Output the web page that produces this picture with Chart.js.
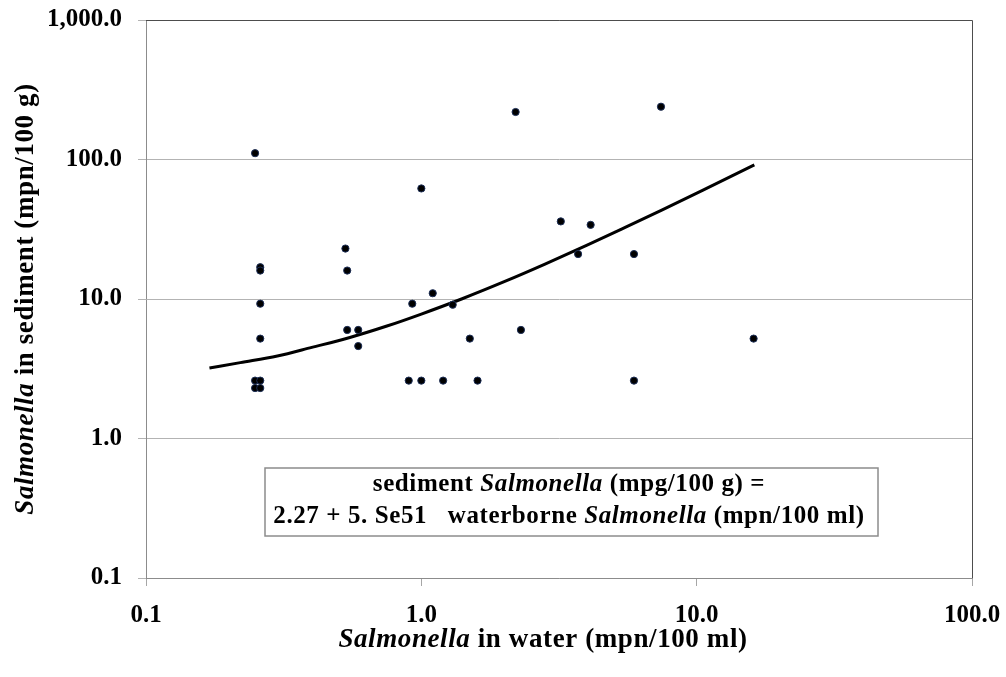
<!DOCTYPE html>
<html>
<head>
<meta charset="utf-8">
<script src="https://cdn.jsdelivr.net/npm/chart.js@4.4.1/dist/chart.umd.min.js"></script>
<style>
    body { margin: 0; background: #fff; }
    canvas { display: block; }
</style>
</head>
<body>
<canvas id="salmonellaChart" width="1006" height="677"></canvas>
<script>
// Datos (agua vs sedimento)
const waterValues = [0.249, 0.26, 0.26, 0.26, 0.26, 0.249, 0.26, 0.249, 0.26,
    0.53, 0.538, 0.538, 0.59, 0.59, 0.927, 1.1, 1.0, 0.9, 1.0, 1.2, 1.6,
    1.3, 1.5, 2.2, 2.3, 3.21, 4.12, 3.71, 5.92, 5.92, 7.42, 16.1];
const sedimentValues = [111, 16.9, 16.0, 9.25, 5.2, 2.6, 2.6, 2.3, 2.3,
    23.0, 16.0, 6.0, 6.0, 4.6, 9.25, 11.0, 62, 2.6, 2.6, 2.6, 2.6,
    9.1, 5.2, 219, 6.0, 36, 34, 21, 21, 2.6, 239, 5.2];

// Linea de tendencia
const trendX = [0.17, 0.22, 0.3, 0.4, 0.55, 0.75, 1.0, 1.4, 2.0, 2.8, 4.0, 5.5, 7.5, 10.5, 16.2];
const trendY = [3.2, 3.5, 3.9, 4.5, 5.3, 6.4, 7.8, 10.0, 13.3, 17.7, 24.3, 32.6, 43.6, 60.1, 91.5];

// Marcas de los ejes
const xTicks = [0.1, 1, 10, 100];
const yTicks = [0.1, 1, 10, 100, 1000];

const fontFamily = "'Times New Roman', 'Liberation Serif', serif";

function formatTick(value) {
    return Number(value).toLocaleString("en-US", {
        minimumFractionDigits: 1,
        maximumFractionDigits: 1,
    });
}

// Dibuja texto con partes en cursiva
function drawRich(ctx, parts, x, y, size) {
    const fontOf = (italic) => `${italic ? "italic " : ""}bold ${size}px ${fontFamily}`;
    ctx.letterSpacing = "0.6px";
    let total = 0;
    parts.forEach((p) => {
        ctx.font = fontOf(p[1]);
        total += ctx.measureText(p[0]).width;
    });
    let cx = x - total / 2;
    ctx.textAlign = "left";
    ctx.textBaseline = "alphabetic";
    parts.forEach((p) => {
        ctx.font = fontOf(p[1]);
        ctx.fillText(p[0], cx, y);
        cx += ctx.measureText(p[0]).width;
    });
    ctx.letterSpacing = "0px";
}

const framePlugin = {
    id: "frame",
    afterDraw(chart) {
        const ctx = chart.ctx;
        const area = chart.chartArea;
        ctx.save();

        // borde superior y derecho
        ctx.strokeStyle = "#4d4d4d";
        ctx.lineWidth = 1;
        ctx.beginPath();
        ctx.moveTo(area.left, area.top + 0.5);
        ctx.lineTo(area.right + 0.5, area.top + 0.5);
        ctx.lineTo(area.right + 0.5, area.bottom);
        ctx.stroke();

        ctx.fillStyle = "#000";

        // titulo eje x
        drawRich(ctx, [["Salmonella", true], [" in water (mpn/100 ml)", false]], 543, 647, 27);

        // titulo eje y
        ctx.save();
        ctx.translate(33, (area.top + area.bottom) / 2);
        ctx.rotate(-Math.PI / 2);
        drawRich(ctx, [["Salmonella", true], [" in sediment (mpn/100 g)", false]], 0, 0, 27);
        ctx.restore();

        // cuadro con la ecuacion
        ctx.fillStyle = "#fff";
        ctx.fillRect(265, 468, 613, 68);
        ctx.strokeStyle = "#8c8c8c";
        ctx.lineWidth = 1.5;
        ctx.strokeRect(265, 468, 613, 68);
        ctx.fillStyle = "#000";
        drawRich(ctx, [["sediment ", false], ["Salmonella", true], [" (mpg/100 g) =", false]], 569, 491, 25);
        drawRich(ctx, [["2.27 + 5. Se51   waterborne ", false], ["Salmonella", true], [" (mpn/100 ml)", false]], 569, 523, 25);

        ctx.restore();
    },
};

document.addEventListener("DOMContentLoaded", function () {
    const points = waterValues.map((x, i) => ({ x: x, y: sedimentValues[i] }));
    const trend = trendX.map((x, i) => ({ x: x, y: trendY[i] }));

    const tickFont = { family: fontFamily, size: 25, weight: "bold" };

    const ctx = document.getElementById("salmonellaChart").getContext("2d");

    new Chart(ctx, {
        type: "scatter",
        data: {
            datasets: [
                {
                    label: "muestras",
                    data: points,
                    showLine: false,
                    pointRadius: 3.6,
                    pointHoverRadius: 3.6,
                    backgroundColor: "#000",
                    borderColor: "#1b2d55",
                    borderWidth: 1,
                    order: 0,
                },
                {
                    label: "tendencia",
                    data: trend,
                    showLine: true,
                    pointRadius: 0,
                    borderColor: "#000",
                    borderWidth: 3,
                    cubicInterpolationMode: "monotone",
                    fill: false,
                    order: 1,
                },
            ],
        },
        options: {
            responsive: false,
            animation: false,
            layout: {
                autoPadding: false,
                padding: { top: 20, right: 34, left: 0, bottom: 0 },
            },
            plugins: {
                legend: { display: false },
                tooltip: { enabled: false },
            },
            scales: {
                x: {
                    type: "logarithmic",
                    position: "bottom",
                    min: 0.1,
                    max: 100,
                    afterBuildTicks: (s) => {
                        s.ticks = xTicks.map((v) => ({ value: v }));
                    },
                    afterFit: (s) => {
                        s.height = 99;
                        s.paddingLeft = 0;
                        s.paddingRight = 0;
                    },
                    grid: { drawOnChartArea: false, tickLength: 8, color: "#a6a6a6" },
                    border: { color: "#8c8c8c" },
                    ticks: {
                        padding: 15,
                        color: "#000",
                        font: tickFont,
                        autoSkip: false,
                        maxRotation: 0,
                        callback: formatTick,
                    },
                },
                y: {
                    type: "logarithmic",
                    min: 0.1,
                    max: 1000,
                    afterBuildTicks: (s) => {
                        s.ticks = yTicks.map((v) => ({ value: v }));
                    },
                    afterFit: (s) => {
                        s.width = 146;
                        s.paddingTop = 0;
                        s.paddingBottom = 0;
                    },
                    grid: { tickLength: 8, color: "#b3b3b3" },
                    border: { color: "#8c8c8c" },
                    ticks: {
                        padding: 16,
                        color: "#000",
                        font: tickFont,
                        autoSkip: false,
                        callback: formatTick,
                    },
                },
            },
        },
        plugins: [framePlugin],
    });
});
</script>
</body>
</html>
